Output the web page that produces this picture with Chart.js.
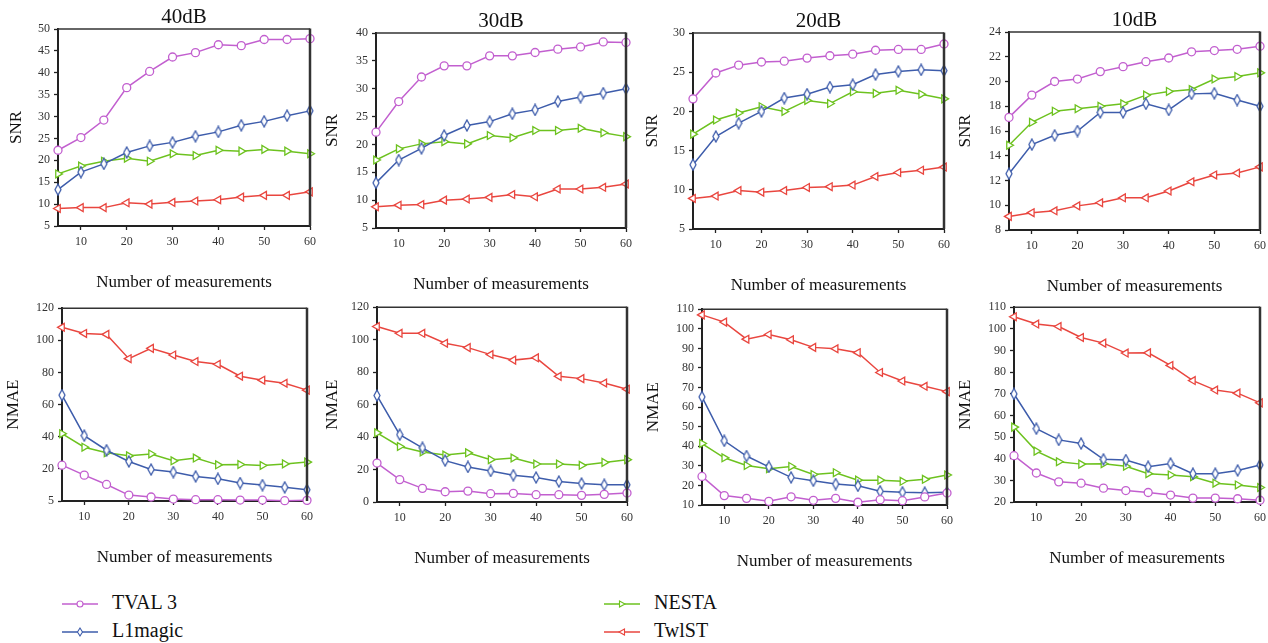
<!DOCTYPE html>
<html>
<head>
<meta charset="utf-8">
<script src="https://cdn.jsdelivr.net/npm/chart.js@4.4.1/dist/chart.umd.min.js"></script>
<style>
  body { margin: 0; background: #fff; width: 1268px; height: 643px; position: relative; overflow: hidden; font-family: "Liberation Serif", "Times New Roman", serif; }
  canvas.panel { position: absolute; }
  .lg { position: absolute; font-family: "Liberation Serif", "Times New Roman", serif; font-size: 20px; color: #111; line-height: 24px; white-space: nowrap; }
  .lg canvas { vertical-align: middle; margin-right: 12px; }
</style>
</head>
<body>
<div class="lg" style="left:60px;top:590px"><canvas id="lgTval" width="40" height="14"></canvas>TVAL 3</div>
<div class="lg" style="left:60px;top:618px"><canvas id="lgL1" width="40" height="14"></canvas>L1magic</div>
<div class="lg" style="left:602px;top:590px"><canvas id="lgNesta" width="40" height="14"></canvas>NESTA</div>
<div class="lg" style="left:602px;top:618px"><canvas id="lgTwist" width="40" height="14"></canvas>TwlST</div>
<script>
const measurements = [5, 10, 15, 20, 25, 30, 35, 40, 45, 50, 55, 60];
const xTicks = [10, 20, 30, 40, 50, 60];
const seriesNames = ['TVAL 3', 'L1magic', 'NESTA', 'TwlST'];

// SNR, top row
const snr40Tval3 = [22.3, 25.2, 29.2, 36.6, 40.3, 43.6, 44.6, 46.4, 46.2, 47.6, 47.6, 47.8];
const snr40L1magic = [13.3, 17.3, 19.2, 21.8, 23.3, 24.1, 25.5, 26.5, 28.0, 28.9, 30.2, 31.3];
const snr40Nesta = [16.9, 18.7, 19.8, 20.5, 19.8, 21.5, 21.1, 22.3, 22.1, 22.5, 22.1, 21.5];
const snr40Twist = [9.0, 9.2, 9.2, 10.3, 10.0, 10.4, 10.7, 11.0, 11.6, 12.0, 12.0, 12.8];

const snr30Tval3 = [22.2, 27.7, 32.1, 34.1, 34.1, 35.9, 35.9, 36.5, 37.1, 37.5, 38.4, 38.3];
const snr30L1magic = [13.1, 17.2, 19.3, 21.6, 23.4, 24.1, 25.5, 26.2, 27.7, 28.5, 29.2, 30.0];
const snr30Nesta = [17.2, 19.2, 20.1, 20.5, 20.1, 21.6, 21.2, 22.5, 22.5, 22.9, 22.1, 21.4];
const snr30Twist = [8.8, 9.1, 9.2, 10.0, 10.2, 10.5, 11.0, 10.6, 12.0, 12.0, 12.3, 12.9];

const snr20Tval3 = [21.6, 24.9, 25.9, 26.3, 26.4, 26.8, 27.1, 27.3, 27.8, 27.9, 27.9, 28.6];
const snr20L1magic = [13.2, 16.8, 18.5, 20.0, 21.7, 22.2, 23.1, 23.4, 24.7, 25.1, 25.3, 25.2];
const snr20Nesta = [17.1, 18.9, 19.8, 20.6, 20.0, 21.4, 21.0, 22.5, 22.3, 22.7, 22.2, 21.6];
const snr20Twist = [8.9, 9.2, 9.9, 9.7, 9.9, 10.3, 10.4, 10.6, 11.7, 12.2, 12.5, 12.9];

const snr10Tval3 = [17.1, 18.9, 20.0, 20.2, 20.8, 21.2, 21.6, 21.9, 22.4, 22.5, 22.6, 22.85];
const snr10L1magic = [12.55, 14.9, 15.65, 16.0, 17.5, 17.5, 18.2, 17.7, 19.0, 19.05, 18.5, 18.0];
const snr10Nesta = [14.85, 16.7, 17.6, 17.8, 18.0, 18.2, 18.9, 19.2, 19.35, 20.2, 20.4, 20.7];
const snr10Twist = [9.1, 9.4, 9.55, 9.95, 10.2, 10.6, 10.6, 11.15, 11.9, 12.45, 12.6, 13.1];

// NMAE, bottom row
const nmae40Tval3 = [22.3, 16.1, 10.3, 3.7, 2.5, 1.2, 0.8, 0.8, 0.6, 0.6, 0.2, 0.4];
const nmae40L1magic = [65.9, 40.7, 31.6, 24.6, 19.6, 18.0, 15.3, 13.8, 11.2, 9.9, 8.5, 7.0];
const nmae40Nesta = [41.9, 33.5, 30.0, 28.1, 29.3, 25.0, 26.7, 22.5, 22.7, 22.1, 23.1, 24.2];
const nmae40Twist = [108.1, 104.3, 103.7, 88.6, 95.0, 90.9, 86.8, 85.1, 77.7, 75.2, 73.3, 69.0];

const nmae30Tval3 = [24.0, 13.8, 8.4, 6.3, 6.7, 5.1, 5.3, 4.5, 4.5, 4.1, 4.7, 5.5];
const nmae30L1magic = [65.6, 41.5, 33.4, 25.5, 21.6, 19.1, 16.5, 15.1, 12.6, 11.4, 10.6, 10.6];
const nmae30Nesta = [42.6, 34.2, 30.8, 28.9, 30.3, 26.1, 27.1, 23.4, 23.4, 22.6, 24.4, 26.1];
const nmae30Twist = [108.1, 103.9, 103.9, 97.8, 95.1, 90.8, 87.4, 88.8, 77.4, 76.0, 73.3, 69.5];

const nmae20Tval3 = [24.6, 14.8, 13.4, 11.9, 14.2, 12.4, 13.4, 11.4, 12.7, 12.2, 14.1, 16.1];
const nmae20L1magic = [65.2, 42.8, 35.0, 29.5, 24.1, 22.4, 20.7, 19.8, 17.0, 16.5, 16.3, 16.5];
const nmae20Nesta = [41.4, 34.1, 30.2, 28.5, 29.7, 25.6, 26.5, 22.7, 22.7, 22.1, 23.1, 25.3];
const nmae20Twist = [107.1, 103.4, 94.7, 97.1, 94.4, 90.5, 89.8, 87.8, 77.7, 73.3, 70.6, 67.9];

const nmae10Tval3 = [41.4, 33.4, 29.3, 28.7, 26.4, 25.3, 24.4, 23.2, 21.8, 21.8, 21.5, 20.8];
const nmae10L1magic = [69.9, 53.9, 48.7, 47.0, 39.7, 39.4, 36.3, 37.8, 33.1, 33.1, 34.6, 37.1];
const nmae10Nesta = [54.6, 43.5, 38.6, 37.5, 37.7, 36.5, 33.1, 32.5, 31.7, 28.7, 27.9, 26.7];
const nmae10Twist = [105.6, 102.2, 101.1, 96.0, 93.4, 88.8, 88.9, 83.1, 76.1, 71.7, 70.3, 65.8];

// y tick values and their printed labels
const snr40Ticks = [5, 10, 15, 20, 25, 30, 35, 40, 45, 50];
const snr30Ticks = [5, 10, 15, 20, 25, 30, 35, 40];
const snr20Ticks = [5, 10, 15, 20, 25, 30];
const snr10Ticks = [8, 10, 12, 14, 16, 18, 20, 22, 24];
const nmae40Ticks = [0, 20, 40, 60, 80, 100, 120];
const nmae40TickLabels = ['5', '20', '40', '60', '80', '100', '120'];
const nmae30Ticks = [0, 20, 40, 60, 80, 100, 120];
const nmae20Ticks = [10, 20, 30, 40, 50, 60, 70, 80, 90, 100, 110];
const nmae10Ticks = [20, 30, 40, 50, 60, 70, 80, 90, 100, 110];

const colors = ['#c25fcf', '#3d5cab', '#6dc21f', '#e9463f'];
const FONT = '"Liberation Serif", "Times New Roman", serif';

// tall thin diamond marker for L1magic
function diamondMarker(w, h, color) {
  const c = document.createElement('canvas');
  c.width = w; c.height = h;
  const g = c.getContext('2d');
  g.beginPath();
  g.moveTo(w / 2, 1); g.lineTo(w - 1, h / 2); g.lineTo(w / 2, h - 1); g.lineTo(1, h / 2);
  g.closePath();
  g.fillStyle = '#fff'; g.fill();
  g.strokeStyle = color; g.lineWidth = 1.3; g.stroke();
  return c;
}
const diamond = diamondMarker(8, 13, colors[1]);

const frame = {
  id: 'frame',
  afterDraw(chart) {
    const a = chart.chartArea, ctx = chart.ctx;
    ctx.save();
    ctx.strokeStyle = '#333';
    ctx.lineWidth = 1.5;
    ctx.beginPath(); ctx.moveTo(a.left, a.top); ctx.lineTo(a.right, a.top); ctx.stroke();
    ctx.lineWidth = 2.5;
    ctx.beginPath(); ctx.moveTo(a.right, a.top - 0.5); ctx.lineTo(a.right, a.bottom); ctx.stroke();
    ctx.restore();
  }
};

function makePanel(p) {
  const topH = p.title ? 30 : 10;
  const c = document.createElement('canvas');
  c.className = 'panel';
  c.width = (p.r - p.l) + 60 + 14;
  c.height = topH + (p.b - p.t) + 67;
  c.style.left = (p.l - 60) + 'px';
  c.style.top = (p.t - topH) + 'px';
  document.body.appendChild(c);

  const styles = [
    { pointStyle: 'circle', pointRadius: 4, rotation: 0 },
    { pointStyle: diamond, pointRadius: 6, rotation: 0 },
    { pointStyle: 'triangle', pointRadius: 4.5, rotation: 90 },
    { pointStyle: 'triangle', pointRadius: 4.5, rotation: -90 }
  ];
  const datasets = p.series.map((vals, i) => ({
    label: seriesNames[i],
    data: measurements.map((x, j) => ({ x: x, y: vals[j] })),
    borderColor: colors[i],
    backgroundColor: '#fff',
    borderWidth: 1.5,
    pointBorderColor: colors[i],
    pointBackgroundColor: '#fff',
    pointBorderWidth: 1.3,
    pointStyle: styles[i].pointStyle,
    pointRadius: styles[i].pointRadius,
    pointRotation: styles[i].rotation,
    tension: 0,
    clip: false
  }));

  const labels = p.yTickLabels || p.yTicks.map(String);
  new Chart(c, {
    type: 'line',
    data: { datasets: datasets },
    options: {
      responsive: false,
      animation: false,
      layout: { padding: { top: 0, right: 14, left: 0, bottom: 0 } },
      plugins: { legend: { display: false }, tooltip: { enabled: false } },
      scales: {
        x: {
          type: 'linear', min: 5, max: 60,
          afterBuildTicks: s => { s.ticks = xTicks.map(v => ({ value: v })); },
          afterFit: s => { s.height = 67; },
          ticks: { font: { family: FONT, size: 12 }, color: '#333', padding: 5, maxRotation: 0, autoSkip: false },
          grid: { drawOnChartArea: false, tickLength: 4, tickColor: '#222', tickWidth: 1.3 },
          border: { color: '#222', width: 2 },
          title: { display: true, text: 'Number of measurements', color: '#111',
                   font: { family: FONT, size: 17 }, padding: { top: 0, bottom: 0 } }
        },
        top: {
          type: 'linear', position: 'top', min: 5, max: 60,
          afterFit: s => { s.height = topH; },
          ticks: { display: false },
          grid: { display: false },
          border: { display: false },
          title: { display: !!p.title, text: p.title || '', color: '#111',
                   font: { family: FONT, size: 21 }, padding: { top: 6, bottom: 0 } }
        },
        y: {
          min: p.yTicks[0], max: p.yTicks[p.yTicks.length - 1],
          afterBuildTicks: s => { s.ticks = p.yTicks.map(v => ({ value: v })); },
          afterFit: s => { s.width = 60; },
          ticks: { font: { family: FONT, size: 12 }, color: '#333', padding: 4,
                   callback: v => labels[p.yTicks.indexOf(v)] },
          grid: { drawOnChartArea: false, tickLength: 4, tickColor: '#222', tickWidth: 1.3 },
          border: { color: '#222', width: 2 },
          title: { display: true, text: p.yLabel, color: '#111',
                   font: { family: FONT, size: 17 }, padding: { top: 60 - p.yGap - 10, bottom: 0 } }
        }
      }
    },
    plugins: [frame]
  });
}

makePanel({ l: 58, t: 29, r: 310, b: 226, title: '40dB', yLabel: 'SNR', yGap: 42, yTicks: snr40Ticks,
  series: [snr40Tval3, snr40L1magic, snr40Nesta, snr40Twist] });
makePanel({ l: 376, t: 33, r: 626, b: 228, title: '30dB', yLabel: 'SNR', yGap: 44, yTicks: snr30Ticks,
  series: [snr30Tval3, snr30L1magic, snr30Nesta, snr30Twist] });
makePanel({ l: 693, t: 33, r: 944, b: 229, title: '20dB', yLabel: 'SNR', yGap: 41, yTicks: snr20Ticks,
  series: [snr20Tval3, snr20L1magic, snr20Nesta, snr20Twist] });
makePanel({ l: 1009, t: 32, r: 1260, b: 230, title: '10dB', yLabel: 'SNR', yGap: 44, yTicks: snr10Ticks,
  series: [snr10Tval3, snr10L1magic, snr10Nesta, snr10Twist] });

makePanel({ l: 62, t: 307, r: 307, b: 501, yLabel: 'NMAE', yGap: 49, yTicks: nmae40Ticks, yTickLabels: nmae40TickLabels,
  series: [nmae40Tval3, nmae40L1magic, nmae40Nesta, nmae40Twist] });
makePanel({ l: 377, t: 306, r: 627, b: 502, yLabel: 'NMAE', yGap: 45, yTicks: nmae30Ticks,
  series: [nmae30Tval3, nmae30L1magic, nmae30Nesta, nmae30Twist] });
makePanel({ l: 702, t: 308, r: 947, b: 505, yLabel: 'NMAE', yGap: 49, yTicks: nmae20Ticks,
  series: [nmae20Tval3, nmae20L1magic, nmae20Nesta, nmae20Twist] });
makePanel({ l: 1014, t: 306, r: 1260, b: 502, yLabel: 'NMAE', yGap: 49, yTicks: nmae10Ticks,
  series: [nmae10Tval3, nmae10L1magic, nmae10Nesta, nmae10Twist] });

// legend symbols
function legendSymbol(id, idx) {
  const g = document.getElementById(id).getContext('2d');
  const col = colors[idx];
  g.strokeStyle = col; g.lineWidth = 1.5;
  g.beginPath(); g.moveTo(2, 7); g.lineTo(38, 7); g.stroke();
  g.fillStyle = '#fff'; g.lineWidth = 1.1;
  g.beginPath();
  if (idx === 0) { g.arc(20, 7, 3, 0, Math.PI * 2); }
  else if (idx === 1) { g.moveTo(20, 3); g.lineTo(22.5, 7); g.lineTo(20, 11); g.lineTo(17.5, 7); g.closePath(); }
  else if (idx === 2) { g.moveTo(17.5, 4); g.lineTo(23, 7); g.lineTo(17.5, 10); g.closePath(); }
  else { g.moveTo(22.5, 4); g.lineTo(17, 7); g.lineTo(22.5, 10); g.closePath(); }
  g.fill(); g.stroke();
}
legendSymbol('lgTval', 0);
legendSymbol('lgL1', 1);
legendSymbol('lgNesta', 2);
legendSymbol('lgTwist', 3);
</script>
</body>
</html>
